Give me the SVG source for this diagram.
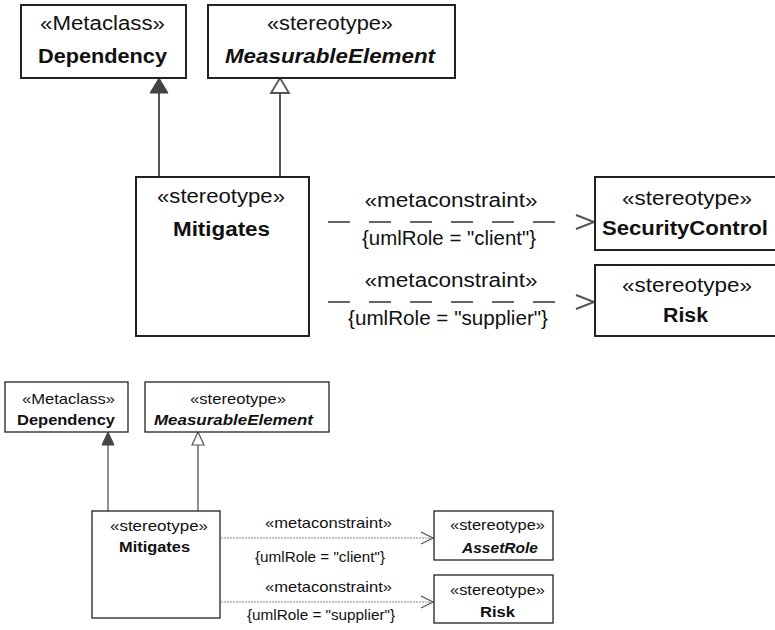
<svg xmlns="http://www.w3.org/2000/svg" width="775" height="630" viewBox="0 0 775 630">
<style>
text{font-family:"Liberation Sans",Arial,sans-serif;fill:#111;text-anchor:middle}
.t{font-size:20px}
.b{font-size:14.5px}
.bold{font-weight:bold}
.it{font-style:italic;font-weight:bold}
.boxT{fill:#fff;stroke:#222;stroke-width:2}
.boxB{fill:#fff;stroke:#222;stroke-width:1.3}
.gT{stroke:#555;stroke-width:2;fill:none}
.gB{stroke:#555;stroke-width:1.3;fill:none}
.dT{stroke:#333;stroke-width:1.6;fill:none;stroke-dasharray:22 19}
.dB{stroke:#888;stroke-width:1;fill:none;stroke-dasharray:2 1}
</style>
<rect width="775" height="630" fill="#fff"/>
<g id="connectors">
  <!-- top -->
  <line class="gT" x1="159" y1="177" x2="159" y2="92"/>
  <polygon points="159,78 150,93 168,93" fill="#444" stroke="#444" stroke-width="1"/>
  <line class="gT" x1="280" y1="177" x2="280" y2="93"/>
  <polygon points="280,78 271,93 289,93" fill="#fff" stroke="#555" stroke-width="1.8"/>
  <line class="dT" x1="328" y1="222" x2="558" y2="222"/>
  <polyline class="gT" points="576,215 594,222 576,229" stroke-width="1.6"/>
  <line class="dT" x1="328" y1="302" x2="558" y2="302"/>
  <polyline class="gT" points="576,295 594,302 576,309" stroke-width="1.6"/>
  <!-- bottom -->
  <line class="gB" x1="108" y1="511" x2="108" y2="444"/>
  <polygon points="108,432 102,445 114,445" fill="#444" stroke="#444" stroke-width="1"/>
  <line class="gB" x1="198" y1="511" x2="198" y2="445"/>
  <polygon points="198,432 192,445 204,445" fill="#fff" stroke="#555" stroke-width="1.2"/>
  <line class="dB" x1="221" y1="538" x2="433" y2="538"/>
  <polyline class="gB" points="421,532 433,538 421,544" stroke-width="1"/>
  <line class="dB" x1="221" y1="602" x2="433" y2="602"/>
  <polyline class="gB" points="421,596 433,602 421,608" stroke-width="1"/>
</g>
<g id="labels">
  <text class="t" x="451" y="207" textLength="173" lengthAdjust="spacingAndGlyphs">«metaconstraint»</text>
  <text class="t" x="449" y="245" textLength="174" lengthAdjust="spacingAndGlyphs">{umlRole = "client"}</text>
  <text class="t" x="451" y="287" textLength="173" lengthAdjust="spacingAndGlyphs">«metaconstraint»</text>
  <text class="t" x="448" y="325" textLength="200" lengthAdjust="spacingAndGlyphs">{umlRole = "supplier"}</text>
  <text class="b" x="328.5" y="528" textLength="127" lengthAdjust="spacingAndGlyphs">«metaconstraint»</text>
  <text class="b" x="320" y="562" textLength="130" lengthAdjust="spacingAndGlyphs">{umlRole = "client"}</text>
  <text class="b" x="328.5" y="592" textLength="127" lengthAdjust="spacingAndGlyphs">«metaconstraint»</text>
  <text class="b" x="321" y="620" textLength="148" lengthAdjust="spacingAndGlyphs">{umlRole = "supplier"}</text>
</g>
<!-- top diagram -->
<g id="dependency-top">
  <rect class="boxT" x="21" y="5" width="165" height="73"/>
  <text class="t" x="102.5" y="30" textLength="125" lengthAdjust="spacingAndGlyphs">«Metaclass»</text>
  <text class="t bold" x="102.5" y="63" textLength="129" lengthAdjust="spacingAndGlyphs">Dependency</text>
</g>
<g id="measurable-top">
  <rect class="boxT" x="208" y="5" width="247" height="73"/>
  <text class="t" x="330" y="30" textLength="126" lengthAdjust="spacingAndGlyphs">«stereotype»</text>
  <text class="t it" x="330" y="63" textLength="210" lengthAdjust="spacingAndGlyphs">MeasurableElement</text>
</g>
<g id="mitigates-top">
  <rect class="boxT" x="136" y="177" width="173" height="159"/>
  <text class="t" x="221" y="203" textLength="128" lengthAdjust="spacingAndGlyphs">«stereotype»</text>
  <text class="t bold" x="221.5" y="236" textLength="97" lengthAdjust="spacingAndGlyphs">Mitigates</text>
</g>
<g id="securitycontrol-top">
  <rect class="boxT" x="595" y="177" width="190" height="73"/>
  <text class="t" x="687" y="205" textLength="130" lengthAdjust="spacingAndGlyphs">«stereotype»</text>
  <text class="t bold" x="685" y="235" textLength="166" lengthAdjust="spacingAndGlyphs">SecurityControl</text>
</g>
<g id="risk-top">
  <rect class="boxT" x="595" y="265" width="190" height="71"/>
  <text class="t" x="687" y="292" textLength="130" lengthAdjust="spacingAndGlyphs">«stereotype»</text>
  <text class="t bold" x="685.5" y="322" textLength="45" lengthAdjust="spacingAndGlyphs">Risk</text>
</g>
<!-- bottom diagram -->
<g id="dependency-bottom">
  <rect class="boxB" x="5" y="382" width="123" height="50"/>
  <text class="b" x="68.5" y="404" textLength="93" lengthAdjust="spacingAndGlyphs">«Metaclass»</text>
  <text class="b bold" x="66" y="425" textLength="98" lengthAdjust="spacingAndGlyphs">Dependency</text>
</g>
<g id="measurable-bottom">
  <rect class="boxB" x="145" y="382" width="184" height="50"/>
  <text class="b" x="238" y="404" textLength="96" lengthAdjust="spacingAndGlyphs">«stereotype»</text>
  <text class="b it" x="233.5" y="425" textLength="159" lengthAdjust="spacingAndGlyphs">MeasurableElement</text>
</g>
<g id="mitigates-bottom">
  <rect class="boxB" x="92" y="511" width="128" height="107"/>
  <text class="b" x="159" y="531" textLength="98" lengthAdjust="spacingAndGlyphs">«stereotype»</text>
  <text class="b bold" x="154.5" y="552" textLength="71" lengthAdjust="spacingAndGlyphs">Mitigates</text>
</g>
<g id="assetrole-bottom">
  <rect class="boxB" x="434" y="511" width="119" height="49"/>
  <text class="b" x="497.5" y="530" textLength="95" lengthAdjust="spacingAndGlyphs">«stereotype»</text>
  <text class="b it" x="500" y="552.5" textLength="76" lengthAdjust="spacingAndGlyphs">AssetRole</text>
</g>
<g id="risk-bottom">
  <rect class="boxB" x="434" y="575" width="119" height="48"/>
  <text class="b" x="497.5" y="595" textLength="95" lengthAdjust="spacingAndGlyphs">«stereotype»</text>
  <text class="b bold" x="497.5" y="617" textLength="35" lengthAdjust="spacingAndGlyphs">Risk</text>
</g>
</svg>
